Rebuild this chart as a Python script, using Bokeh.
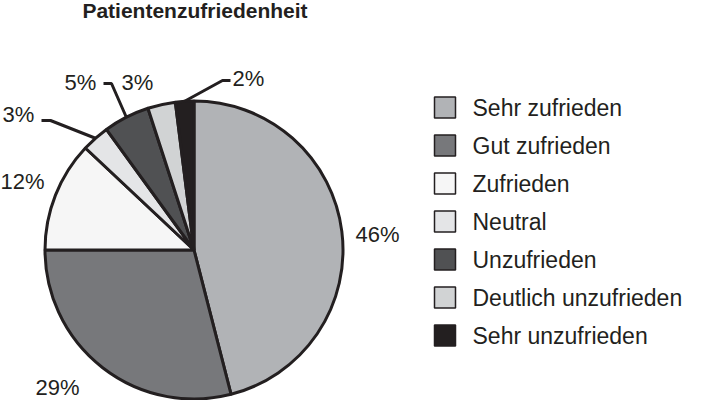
import math
from bokeh.plotting import figure
from bokeh.models import ColumnDataSource, Range1d
from bokeh.core.properties import value
from bokeh.embed import file_html
from bokeh.resources import INLINE

# ---------------- data ----------------
chart_title = "Patientenzufriedenheit"
categories = ["Sehr zufrieden", "Gut zufrieden", "Zufrieden", "Neutral",
              "Unzufrieden", "Deutlich unzufrieden", "Sehr unzufrieden"]
shares = [46, 29, 12, 3, 5, 3, 2]
pct_labels = [f"{v}%" for v in shares]

# ---------------- styles / layout ----------------
colors = ["#b1b3b6", "#77787b", "#f6f6f6", "#e4e5e7", "#505153", "#d1d3d4", "#231f20"]
INK = "#231f20"
FONT = "Liberation Sans"
W, H = 691, 400
OX, OY = 13, 413          # reference pixel -> data coordinates


def dx(x):
    return x - OX


def dy(y):
    return OY - y


CX, CY, R = dx(206.5), dy(262.5), 149

# label anchors (left edge, vertical middle) in reference pixels
label_pos = [(368, 246.5), (48, 399.5), (13, 193.5), (15, 126.5),
             (77, 94.5), (134, 94.5), (245, 91)]
# leader elbows (start, end) in reference pixels, None = no leader
leader_elbow = [None, None, None, ((54, 133), (63, 133)), ((116, 96), (124, 96)),
                None, ((243, 93), (235, 93))]

# legend layout (reference pixels)
LEG_SWATCH_X, LEG_TEXT_X, LEG_Y0, LEG_STEP, LEG_SIZE = 457.5, 485, 120, 38, 21

# ---------------- geometry from data ----------------
total = float(sum(shares))
cum = [0.0]
for v in shares:
    cum.append(cum[-1] + v / total)
start_angles = [math.pi / 2 - 2 * math.pi * cum[i + 1] for i in range(len(shares))]
end_angles = [math.pi / 2 - 2 * math.pi * cum[i] for i in range(len(shares))]
mid_angles = [(a + b) / 2 for a, b in zip(start_angles, end_angles)]

p = figure(width=W, height=H, output_backend="svg", toolbar_location=None,
           x_range=Range1d(0, W), y_range=Range1d(0, H), min_border=0,
           outline_line_color=None)
p.axis.visible = False
p.grid.visible = False
p.background_fill_color = "white"
p.border_fill_color = "white"

src = ColumnDataSource(dict(start=start_angles, end=end_angles, color=colors, cat=categories))
p.wedge(x=CX, y=CY, radius=R, start_angle="start", end_angle="end", direction="anticlock",
        fill_color="color", line_color=INK, line_width=3, source=src)

# leader lines
xs, ys = [], []
for i, elb in enumerate(leader_elbow):
    if elb is None:
        continue
    (x0, y0), (x1, y1) = elb
    ex = CX + R * math.cos(mid_angles[i])
    ey = CY + R * math.sin(mid_angles[i])
    xs.append([dx(x0), dx(x1), ex])
    ys.append([dy(y0), dy(y1), ey])
p.multi_line(xs=xs, ys=ys, line_color=INK, line_width=3)

# percentage labels
p.text(x=[dx(x) for x, _ in label_pos], y=[dy(y) for _, y in label_pos], text=pct_labels,
       text_font=value(FONT), text_font_size="22px", text_align="left",
       text_baseline="middle", text_color=INK)

# title
p.text(x=[dx(207.5)], y=[dy(23)], text=[chart_title], text_font=value(FONT),
       text_font_size="21px", text_font_style="bold", text_align="center",
       text_baseline="middle", text_color=INK)

# legend (swatches + labels)
leg_y = [dy(LEG_Y0 + LEG_STEP * k) for k in range(len(categories))]
leg_src = ColumnDataSource(dict(
    sx=[dx(LEG_SWATCH_X)] * len(categories), tx=[dx(LEG_TEXT_X)] * len(categories),
    y=leg_y, color=colors, cat=categories))
p.rect(x="sx", y="y", width=LEG_SIZE, height=LEG_SIZE, fill_color="color",
       line_color=INK, line_width=1.5, source=leg_src)
p.text(x="tx", y="y", text="cat", text_font=value(FONT), text_font_size="23px",
       text_align="left", text_baseline="middle", text_color=INK, source=leg_src)

open("out.html", "w").write(file_html(p, INLINE))
